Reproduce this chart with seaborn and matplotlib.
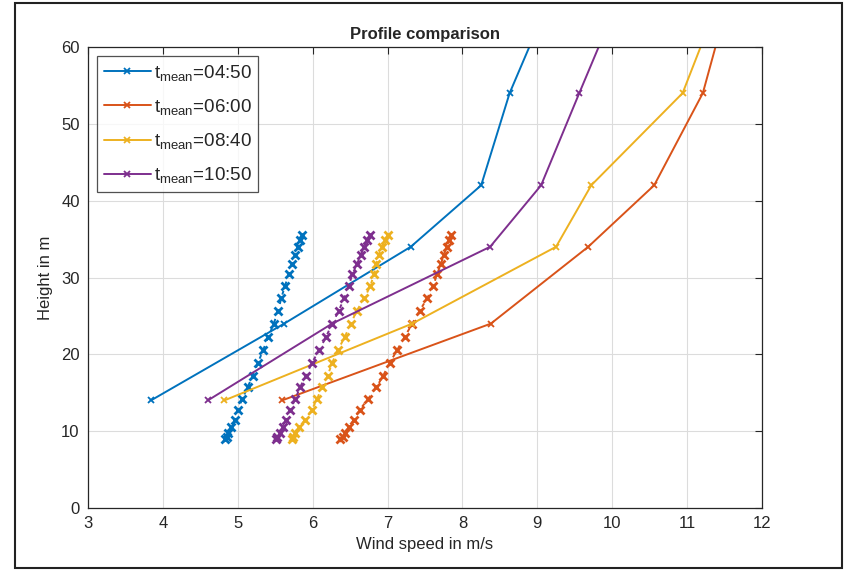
import matplotlib
matplotlib.use("Agg")
import matplotlib.pyplot as plt
from matplotlib.lines import Line2D
from matplotlib.patches import Rectangle
import numpy as np
import pandas as pd
import seaborn as sns

# ---- data ----
labels = ["04:50", "06:00", "08:40", "10:50"]
colors = ["#0072BD", "#D95319", "#EDB120", "#7E2F8E"]

mast_heights = [14, 24, 34, 42, 54, 70]
mast_0450 = [3.84, 5.62, 7.31, 8.25, 8.63, 9.33]
mast_0600 = [5.59, 8.38, 9.68, 10.56, 11.21, 11.66]
mast_0840 = [4.82, 7.33, 9.25, 9.72, 10.94, 11.58]
mast_1050 = [4.60, 6.26, 8.37, 9.05, 9.56, 10.25]

lidar_heights = [9.0, 9.3, 9.8, 10.5, 11.5, 12.8, 14.2, 15.7, 17.2, 18.9, 20.6,
                 22.3, 24.0, 25.7, 27.3, 28.9, 30.4, 31.7, 32.9, 34.0, 34.9, 35.5]
lidar_0450 = [4.83, 4.85, 4.87, 4.91, 4.96, 5.00, 5.06, 5.13, 5.20, 5.27, 5.34,
              5.41, 5.48, 5.54, 5.58, 5.63, 5.68, 5.72, 5.77, 5.80, 5.83, 5.86]
lidar_0600 = [6.37, 6.40, 6.43, 6.48, 6.55, 6.63, 6.74, 6.85, 6.94, 7.03, 7.13,
              7.23, 7.33, 7.43, 7.53, 7.61, 7.66, 7.71, 7.75, 7.79, 7.82, 7.85]
lidar_0840 = [5.72, 5.74, 5.77, 5.82, 5.90, 5.99, 6.06, 6.12, 6.20, 6.26, 6.34,
              6.43, 6.51, 6.59, 6.69, 6.77, 6.82, 6.85, 6.88, 6.93, 6.97, 7.00]
lidar_1050 = [5.51, 5.53, 5.56, 5.60, 5.65, 5.70, 5.77, 5.83, 5.91, 5.99, 6.09,
              6.18, 6.26, 6.35, 6.42, 6.48, 6.53, 6.59, 6.64, 6.69, 6.73, 6.77]

mast_series = [mast_0450, mast_0600, mast_0840, mast_1050]
lidar_series = [lidar_0450, lidar_0600, lidar_0840, lidar_1050]

# ---- style ----
sns.set_style("white")
plt.rcParams["font.family"] = ["Liberation Sans", "DejaVu Sans"]
plt.rcParams["mathtext.fontset"] = "custom"
plt.rcParams["mathtext.rm"] = "Liberation Sans"

fig = plt.figure(figsize=(8.44, 5.70), dpi=100)
ax = fig.add_axes([88 / 844, 1 - 508 / 570, (762 - 88) / 844, (508 - 47) / 570])

for lab, col, mx, lx in zip(labels, colors, mast_series, lidar_series):
    dm = pd.DataFrame({"speed": mx, "height": mast_heights})
    sns.lineplot(data=dm, x="speed", y="height", sort=False, estimator=None,
                 color=col, lw=1.4, marker="x", markersize=5, mew=1.3,
                 mec=col, ax=ax, legend=False)
    dl = pd.DataFrame({"speed": lx, "height": lidar_heights})
    sns.lineplot(data=dl, x="speed", y="height", sort=False, estimator=None,
                 color=col, lw=1.4, linestyle=(0, (2, 3)), marker="x",
                 markersize=6, mew=2.0, mec=col, ax=ax, legend=False)

ax.set_xlim(3, 12)
ax.set_ylim(0, 60)
ax.set_xticks(range(3, 13))
ax.set_yticks(range(0, 61, 10))
ax.grid(True, color="#dcdcdc", lw=0.8)
ax.tick_params(direction="in", length=5, width=0.8, top=True, right=True,
               labelsize=12, colors="#262626", pad=6)
for s in ax.spines.values():
    s.set_color("#262626")
    s.set_linewidth(0.9)

ax.set_xlabel("Wind speed in m/s", fontsize=12, color="#262626", labelpad=4)
ax.set_ylabel("Height in m", fontsize=12, color="#262626", labelpad=6)
ax.set_title("Profile comparison", fontsize=12, fontweight="bold", pad=6)

handles = [Line2D([0], [0], color=c, lw=1.4, marker="x", markersize=5, mew=1.3)
           for c in colors]
leg_labels = [r"$\mathregular{t_{mean}}$=" + l for l in labels]
leg = ax.legend(handles, leg_labels, loc="upper left", fontsize=13.5,
                frameon=True, fancybox=False, edgecolor="#262626",
                borderaxespad=0.5, handlelength=2.5, handletextpad=0.15,
                labelspacing=0.75, borderpad=0.35)
leg.get_frame().set_linewidth(0.9)

fig.add_artist(Rectangle((15 / 844, 2 / 570), (842 - 15) / 844, (567 - 2) / 570,
                         transform=fig.transFigure, fill=False,
                         edgecolor="#222222", lw=1.5))

fig.savefig("out.png", dpi=100)
